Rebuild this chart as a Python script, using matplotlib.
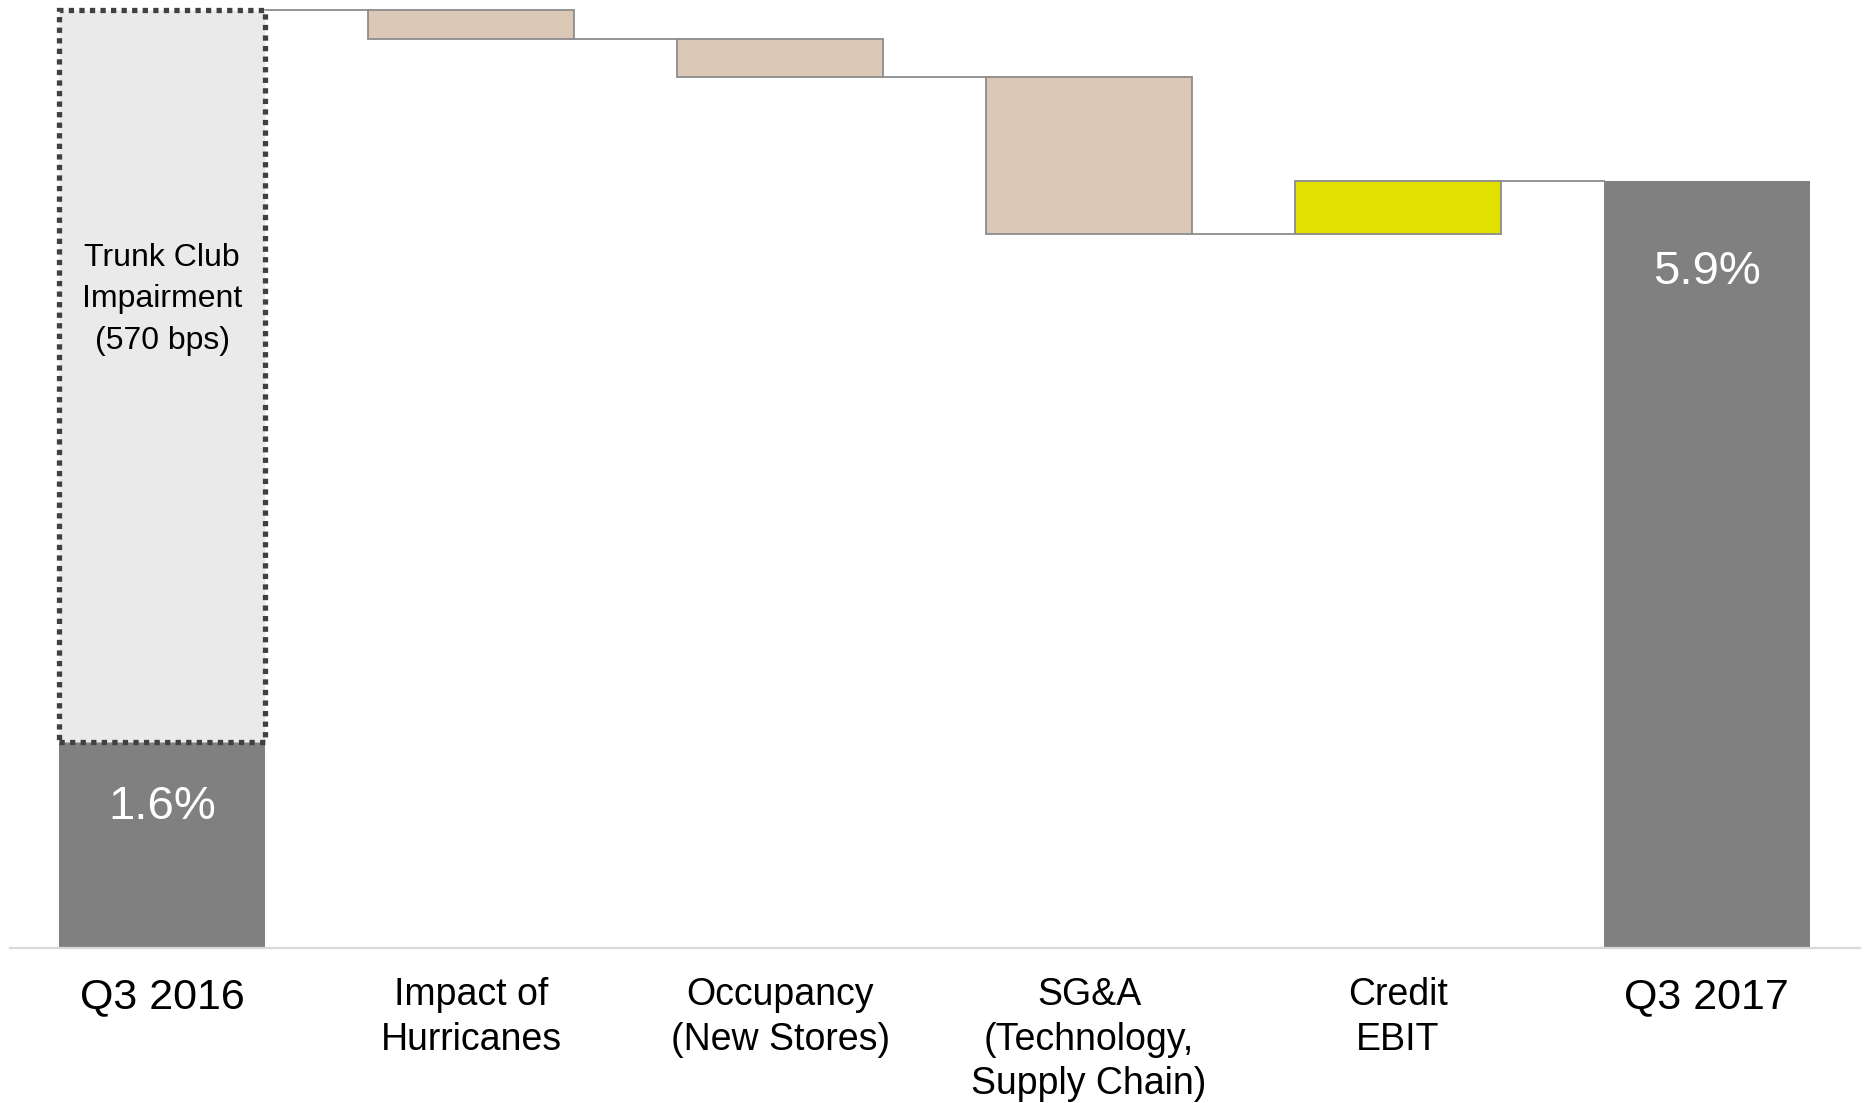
import matplotlib.pyplot as plt
import numpy as np

plt.rcParams['font.family'] = ['Liberation Sans', 'DejaVu Sans']

# данные водопада (в % от выручки)
categories = ['Q3 2016', 'Impact of\nHurricanes', 'Occupancy\n(New Stores)',
              'SG&A\n(Technology,\nSupply Chain)', 'Credit\nEBIT', 'Q3 2017']
start_value = 1.6
impairment = 5.7
deltas = [-0.22, -0.30, -1.22, 0.41]
end_value = 5.97
start_label = '1.6%'
end_label = '5.9%'
impairment_label = 'Trunk Club\nImpairment\n(570 bps)'

dark = '#808080'
tan = '#DBC8B6'
yellow = '#E1E000'
edge = '#8C8C8C'

fig = plt.figure(figsize=(18.66, 11.03), dpi=100)
ax = fig.add_axes([10 / 1866, 155 / 1103, 1850 / 1866, 948 / 1103])

x = np.arange(len(categories))
w = 0.666

# первый столбец + пунктирный блок списания
ax.bar(x[0], start_value, width=w, color=dark, zorder=2)
ax.bar(x[0], impairment, bottom=start_value, width=w, color='#EAEAEA',
       edgecolor='#404040', linewidth=3.8, linestyle=(0, (1, 1)), zorder=3)

# промежуточные шаги
level = start_value + impairment
for i, d in enumerate(deltas):
    xi = x[i + 1]
    ax.plot([xi - 1 + w / 2, xi - w / 2], [level, level], color=edge, lw=1.3, zorder=1)
    ax.bar(xi, abs(d), bottom=min(level, level + d), width=w,
           color=tan if d < 0 else yellow, edgecolor=edge, linewidth=1.3, zorder=2)
    level += d
ax.plot([x[-2] + w / 2, x[-1] - w / 2], [level, level], color=edge, lw=1.3, zorder=1)

# последний столбец
ax.bar(x[-1], end_value, width=w, color=dark, zorder=2)

# подписи
ax.text(x[0], 1.10, start_label, color='white', fontsize=34, ha='center', va='center', zorder=4)
ax.text(x[-1], 5.26, end_label, color='white', fontsize=34, ha='center', va='center', zorder=4)
ax.text(x[0], 5.05, impairment_label, color='black', fontsize=23, ha='center', va='center',
        linespacing=1.49, zorder=4)

ax.set_xlim(-0.493, 5.496)
ax.set_ylim(0, 7.38)
ax.set_xticks(x, categories)
ax.tick_params(axis='x', length=0, pad=21)
for i, lbl in enumerate(ax.get_xticklabels()):
    lbl.set_fontsize(31 if i in (0, len(categories) - 1) else 27)
    lbl.set_linespacing(1.3)
ax.set_yticks([])
for s in ['top', 'left', 'right']:
    ax.spines[s].set_visible(False)
ax.spines['bottom'].set_color('#D9D9D9')
ax.spines['bottom'].set_linewidth(1.6)

fig.savefig('out.png', dpi=100)
